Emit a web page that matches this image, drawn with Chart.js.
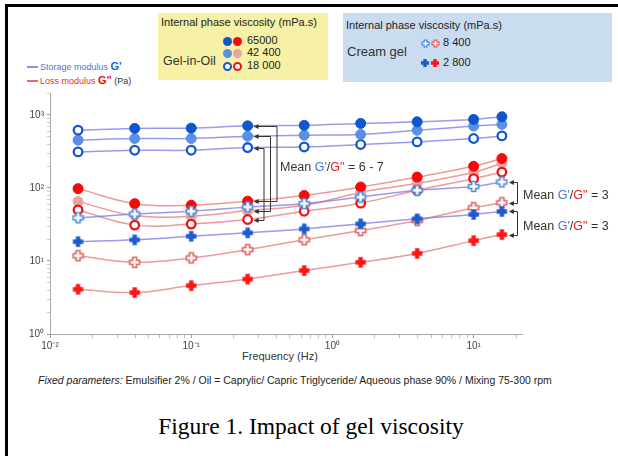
<!DOCTYPE html>
<html><head><meta charset="utf-8">
<script src="https://cdn.jsdelivr.net/npm/chart.js@4.4.1/dist/chart.umd.min.js"></script>
<style>
body{margin:0;background:#fff;}
#wrap{position:relative;width:618px;height:456px;overflow:hidden;font-family:"Liberation Sans",Arial,sans-serif;}
#frame{position:absolute;left:5px;top:4px;width:700px;height:500px;border-left:3px solid #000;border-top:3px solid #000;}
canvas#c{position:absolute;left:0;top:0;}
.t{position:absolute;white-space:nowrap;line-height:1;}
.box{position:absolute;}
</style></head><body>
<div id="wrap">
<div id="frame"></div>
<div class="box" style="left:158px;top:13px;width:170px;height:67px;background:#f6f1a4;"></div>
<div class="box" style="left:343px;top:13px;width:269px;height:69px;background:#c9dcf0;"></div>
<div class="t" style="left:161px;top:17px;font-size:11px;color:#222;">Internal phase viscosity (mPa.s)</div>
<div class="t" style="left:163px;top:55px;font-size:12.5px;color:#333;">Gel-in-Oil</div>
<div class="t" style="left:346px;top:20px;font-size:11px;color:#222;">Internal phase viscosity (mPa.s)</div>
<div class="t" style="left:347px;top:45px;font-size:13px;color:#333;">Cream gel</div>
<div id="legendItems"></div>
<div class="box" style="left:27px;top:66px;width:11px;height:1.5px;background:#7b9ad6;"></div>
<div class="box" style="left:27px;top:80px;width:11px;height:1.5px;background:#e07070;"></div>
<div class="t" style="left:40px;top:61px;font-size:9px;color:#4a78d0;">Storage modulus <b style="font-size:11px;color:#1565d8;">G'</b></div>
<div class="t" style="left:40px;top:75px;font-size:9px;color:#e83030;">Loss modulus <b style="font-size:11px;color:#e81010;">G"</b> <span style="color:#333;">(Pa)</span></div>
<div class="t" style="left:242px;top:351px;font-size:11px;color:#333;">Frequency (Hz)</div>
<div class="t" style="left:38px;top:375px;font-size:10.5px;color:#222;"><i>Fixed parameters:</i> Emulsifier 2% / Oil = Caprylic/ Capric Triglyceride/ Aqueous phase 90% / Mixing 75-300 rpm</div>
<div class="t" style="left:0;width:622px;text-align:center;top:415px;font-size:23.5px;font-family:'Liberation Serif','Times New Roman',serif;color:#000;">Figure 1. Impact of gel viscosity</div>
<canvas id="c" width="618" height="456"></canvas>
</div>
<script>
// ---- data ----
const frequencies = [0.0158, 0.0398, 0.1, 0.251, 0.631, 1.585, 3.98, 10, 15.85];
const gelOil65000_G1 = [620, 655, 660, 710, 720, 767, 806, 870, 945];
const gelOil42400_G1 = [452, 476, 476, 512, 529, 541, 617, 704, 743];
const gelOil18000_G1 = [312, 329, 329, 358, 365, 394, 428, 476, 517];
const gelOil65000_G2 = [98, 61, 58, 66, 79, 103, 141, 198, 253];
const gelOil42400_G2 = [65, 42, 41, 49, 58, 87, 116, 164, 218];
const gelOil18000_G2 = [50, 31, 32, 37, 48, 62, 93, 134, 165];
const cream8400_G1 = [39, 44, 48, 55, 61, 75, 93, 105, 121];
const cream2800_G1 = [18.4, 19.5, 21.8, 24.3, 27.5, 32.3, 37.8, 43.4, 47.7];
const cream8400_G2 = [11.8, 9.6, 11, 14.3, 19.5, 26.1, 35.8, 53.6, 62.8];
const cream2800_G2 = [4.1, 3.7, 4.6, 5.65, 7.4, 9.6, 12.7, 19, 23];
const gelOilViscosities = ['65000', '42 400', '18 000'];
const creamViscosities = ['8 400', '2 800'];
const xTickLabels = {'-2': '10\u207B\u00B2', '-1': '10\u207B\u00B9', '0': '10\u2070', '1': '10\u00B9'};
const yTickLabels = {'0': '10\u2070', '1': '10\u00B9', '2': '10\u00B2', '3': '10\u00B3'};
const xDecades = [0.01, 0.1, 1, 10];
const yDecades = [1, 10, 100, 1000];
const tickMultipliers = [1, 2, 3, 4, 5, 6, 7, 8, 9];
const meanLabelA = ['Mean ', "G'", '/', 'G"', ' = 6 - 7'];
const meanLabelB = ['Mean ', "G'", '/', 'G"', ' = 3'];

// ---- styles ----
const C = {
  dkBlue: '#0f56cf', ltBlue: '#5a90e2', opBlue: '#1358cf',
  red: '#f40a0a', ltRed: '#eba3a3', opRed: '#ef1212',
  hBlue: '#4f8ad8', hRed: '#e06262', fBlue: '#1a5cd0', fRed: '#ff1414',
  blueLine: 'rgba(120,120,230,0.75)', redLine: 'rgba(236,135,135,0.85)'
};
function plus(color, hollow, s) {
  const cv = document.createElement('canvas');
  cv.width = s; cv.height = s;
  const g = cv.getContext('2d');
  const k = s / 13;
  const a = (hollow ? 2 : 2.2) * k, r = (hollow ? 5 : 5.2) * k, c = s / 2;
  g.beginPath();
  g.moveTo(c - a, c - r); g.lineTo(c + a, c - r); g.lineTo(c + a, c - a); g.lineTo(c + r, c - a);
  g.lineTo(c + r, c + a); g.lineTo(c + a, c + a); g.lineTo(c + a, c + r); g.lineTo(c - a, c + r);
  g.lineTo(c - a, c + a); g.lineTo(c - r, c + a); g.lineTo(c - r, c - a); g.lineTo(c - a, c - a);
  g.closePath();
  if (hollow) { g.fillStyle = '#fff'; g.fill(); g.strokeStyle = color; g.lineWidth = 1.6 * Math.max(k, 0.8); g.stroke(); }
  else { g.fillStyle = color; g.fill(); }
  return cv;
}
const P = { hB: plus(C.hBlue, true, 13), hR: plus(C.hRed, true, 13), fB: plus(C.fBlue, false, 13), fR: plus(C.fRed, false, 13) };

function pts(arr) { return frequencies.map((f, i) => ({x: f, y: arr[i]})); }
function ds(arr, line, style) {
  return Object.assign({ data: pts(arr), borderColor: line, borderWidth: 1.5, tension: 0.4, fill: false }, style);
}
const filled = col => ({ pointStyle: 'circle', pointRadius: 5, pointBackgroundColor: col, pointBorderColor: col, pointBorderWidth: 1 });
const open = col => ({ pointStyle: 'circle', pointRadius: 4.3, pointBackgroundColor: '#fff', pointBorderColor: col, pointBorderWidth: 2.3 });
const img = im => ({ pointStyle: im, pointRadius: 6 });

const dkStyle = filled(C.dkBlue);
dkStyle.pointBackgroundColor = frequencies.map((f, i) => i === 0 ? '#fff' : C.dkBlue);
dkStyle.pointBorderWidth = frequencies.map((f, i) => i === 0 ? 2.3 : 1);
dkStyle.pointRadius = frequencies.map((f, i) => i === 0 ? 4.3 : 5);

const datasets = [
  ds(cream8400_G1, C.blueLine, img(P.hB)),
  ds(cream2800_G1, C.blueLine, img(P.fB)),
  ds(gelOil65000_G1, C.blueLine, dkStyle),
  ds(gelOil42400_G1, C.blueLine, filled(C.ltBlue)),
  ds(gelOil18000_G1, C.blueLine, open(C.opBlue)),
  ds(gelOil65000_G2, C.redLine, filled(C.red)),
  ds(gelOil18000_G2, C.redLine, open(C.opRed)),
  ds(gelOil42400_G2, C.redLine, filled(C.ltRed)),
  ds(cream8400_G2, C.redLine, img(P.hR)),
  ds(cream2800_G2, C.redLine, img(P.fR)),
];

// ---- legend markers ----
const li = document.getElementById('legendItems');
function addEl(el, x, y) { el.style.position = 'absolute'; el.style.left = x + 'px'; el.style.top = y + 'px'; li.appendChild(el); }
function circ(x, y, col, isOpen) {
  const d = document.createElement('div');
  d.style.width = isOpen ? '5px' : '9px'; d.style.height = isOpen ? '5px' : '9px';
  d.style.borderRadius = '50%';
  d.style.background = isOpen ? '#fff' : col;
  if (isOpen) d.style.border = '2px solid ' + col;
  addEl(d, x - 4.5, y - 4.5);
}
function lbl(x, y, text, size) {
  const d = document.createElement('div'); d.className = 't';
  d.style.fontSize = size + 'px'; d.style.color = '#222'; d.textContent = text;
  addEl(d, x, y - size / 2 - 1);
}
const gRows = [41, 53.5, 66];
circ(227, gRows[0], C.dkBlue, false); circ(237, gRows[0], C.red, false);
circ(227, gRows[1], C.ltBlue, false); circ(237, gRows[1], C.ltRed, false);
circ(227, gRows[2], C.opBlue, true); circ(237, gRows[2], C.opRed, true);
gelOilViscosities.forEach((v, i) => lbl(247, gRows[i], v, 11));
const cRows = [43, 63];
const legP = [[plus(C.hBlue, true, 9), plus(C.hRed, true, 9)], [plus(C.fBlue, false, 10), plus(C.fRed, false, 10)]];
legP.forEach((pair, i) => {
  pair.forEach((cv, j) => addEl(cv, 425 + j * 10 - cv.width / 2, cRows[i] - cv.height / 2));
  lbl(443, cRows[i], creamViscosities[i], 11);
});

// ---- annotations ----
function arrow(ctx, xv, xt, y) {
  ctx.beginPath(); ctx.moveTo(xv, y); ctx.lineTo(xt + 4, y); ctx.stroke();
  ctx.beginPath(); ctx.moveTo(xt, y); ctx.lineTo(xt + 5, y - 2.5); ctx.lineTo(xt + 5, y + 2.5); ctx.closePath(); ctx.fill();
}
function bracket(ctx, xv, xt, y1, y2) {
  ctx.beginPath(); ctx.moveTo(xv, y1); ctx.lineTo(xv, y2); ctx.stroke();
  arrow(ctx, xv, xt, y1); arrow(ctx, xv, xt, y2);
}
function meanText(ctx, parts, x, y) {
  const cols = ['#333', '#3f78d4', '#333', '#e22020', '#333'];
  ctx.font = '12.5px "Liberation Sans", Arial, sans-serif'; ctx.textBaseline = 'middle'; ctx.textAlign = 'left';
  parts.forEach((p, i) => { ctx.fillStyle = cols[i]; ctx.fillText(p, x, y); x += ctx.measureText(p).width; });
}
const annot = {
  id: 'annot',
  afterDatasetsDraw(chart) {
    const ctx = chart.ctx, xs = chart.scales.x, ys = chart.scales.y;
    ctx.save();
    ctx.strokeStyle = '#333'; ctx.fillStyle = '#333'; ctx.lineWidth = 1;
    const k = 3, tip = xs.getPixelForValue(frequencies[k]) + 6;
    const pairs = [[gelOil65000_G1, gelOil65000_G2, 277], [gelOil42400_G1, gelOil42400_G2, 270.5], [gelOil18000_G1, gelOil18000_G2, 264]];
    pairs.forEach(([a, b, xv]) => bracket(ctx, xv, tip, Math.round(ys.getPixelForValue(a[k])) + 0.5, Math.round(ys.getPixelForValue(b[k])) + 0.5));
    const n = frequencies.length - 1, tip2 = xs.getPixelForValue(frequencies[n]) + 7;
    const rp = [[cream8400_G1, cream8400_G2], [cream2800_G1, cream2800_G2]];
    const ym = [];
    rp.forEach(([a, b]) => {
      const y1 = Math.round(ys.getPixelForValue(a[n])) + 0.5, y2 = Math.round(ys.getPixelForValue(b[n])) + 0.5;
      bracket(ctx, 517.5, tip2, y1, y2); ym.push((y1 + y2) / 2);
    });
    meanText(ctx, meanLabelA, 280, 168);
    meanText(ctx, meanLabelB, 523, ym[0] + 3);
    meanText(ctx, meanLabelB, 523, ym[1] + 3);
    ctx.restore();
  }
};

function logTicks(decades) {
  return function (scale) {
    const t = [];
    decades.forEach(d => tickMultipliers.forEach(m => {
      const v = d * m;
      if (v >= scale.min * 0.9999 && v <= scale.max) t.push({ value: v });
    }));
    scale.ticks = t;
  };
}
const isMajor = v => Math.abs(Math.log10(v) - Math.round(Math.log10(v))) < 1e-6;
const tickFont = { family: '"Liberation Sans", Arial, sans-serif', size: 10 };

new Chart(document.getElementById('c'), {
  type: 'line',
  data: { datasets },
  options: {
    responsive: false, animation: false, devicePixelRatio: 1, events: [],
    layout: { padding: { left: 0, top: 93, right: 96, bottom: 82 } },
    plugins: { legend: { display: false }, tooltip: { enabled: false } },
    scales: {
      x: {
        type: 'logarithmic', min: 0.01, max: 22,
        afterBuildTicks: logTicks(xDecades),
        afterFit: s => { s.height = 40; },
        border: { color: '#aaa', width: 1 },
        grid: { drawOnChartArea: false, tickLength: 4, tickColor: c => (c.tick && isMajor(c.tick.value)) ? '#999' : '#bbb' },
        ticks: { autoSkip: false, maxRotation: 0, color: '#444', font: tickFont, padding: 2,
          callback: v => isMajor(v) ? xTickLabels[String(Math.round(Math.log10(v)))] : '' }
      },
      y: {
        type: 'logarithmic', min: 1, max: 2000,
        afterBuildTicks: logTicks(yDecades),
        afterFit: s => { s.width = 50; },
        border: { color: '#aaa', width: 1 },
        grid: { drawOnChartArea: false, tickLength: 3, tickColor: c => (c.tick && isMajor(c.tick.value)) ? '#999' : '#ccc' },
        ticks: { autoSkip: false, color: '#444', font: tickFont, padding: 3,
          callback: v => isMajor(v) ? yTickLabels[String(Math.round(Math.log10(v)))] : '' }
      }
    }
  },
  plugins: [annot]
});
</script>
</body></html>
